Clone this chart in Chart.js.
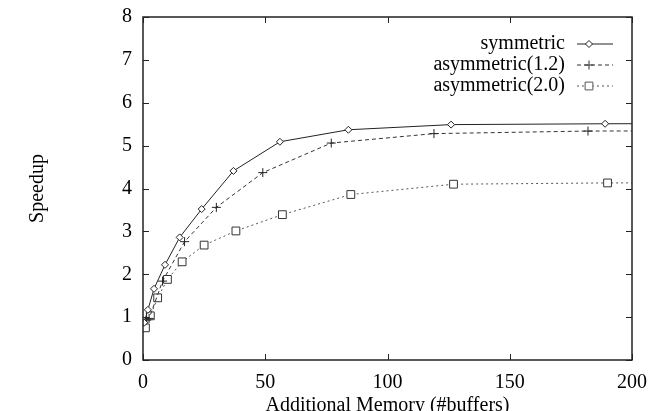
<!DOCTYPE html>
<html>
<head>
<meta charset="utf-8">
<script src="https://cdn.jsdelivr.net/npm/chart.js@4/dist/chart.umd.min.js"></script>
<style>
  html, body { margin: 0; padding: 0; background: #fff; }
  #wrap { width: 652px; height: 411px; }
</style>
</head>
<body>
<div id="wrap"><canvas id="myChart"></canvas></div>
<script>
// Data
const seriesNames = ['symmetric', 'asymmetric(1.2)', 'asymmetric(2.0)'];
const symX = [0.5, 2, 4.5, 9, 15, 24, 37, 56, 84, 126, 189, 284];
const symY = [0.87, 1.17, 1.66, 2.22, 2.86, 3.52, 4.41, 5.09, 5.37, 5.49, 5.51, 5.52];
const asym12X = [1.5, 2.5, 8, 17, 30, 49, 77, 119, 182, 273];
const asym12Y = [0.93, 0.97, 1.84, 2.76, 3.56, 4.37, 5.06, 5.28, 5.34, 5.35];
const asym20X = [1, 3, 6, 10, 16, 25, 38, 57, 85, 127, 190, 285];
const asym20Y = [0.75, 1.03, 1.45, 1.88, 2.29, 2.68, 3.01, 3.39, 3.86, 4.10, 4.13, 4.14];
const xTicks = [0, 50, 100, 150, 200];
const yTicks = [0, 1, 2, 3, 4, 5, 6, 7, 8];

const serif = "'Liberation Serif', 'DejaVu Serif', serif";

function toPoints(xs, ys) {
    return xs.map((x, i) => ({ x: x, y: ys[i] }));
}

// Box around the plot with inward ticks (gnuplot style) and the legend
const framePlugin = {
    id: 'frame',
    afterDatasetsDraw(chart) {
        const ctx = chart.ctx;
        const a = chart.chartArea;
        const xs = chart.scales.x;
        const ys = chart.scales.y;
        const tl = 6;
        ctx.save();
        ctx.strokeStyle = '#222';
        ctx.lineWidth = 1.5;
        ctx.setLineDash([]);
        ctx.strokeRect(a.left, a.top, a.right - a.left, a.bottom - a.top);
        ctx.lineWidth = 1;
        ctx.beginPath();
        xTicks.forEach(v => {
            const px = Math.round(xs.getPixelForValue(v)) + 0.5;
            ctx.moveTo(px, a.bottom); ctx.lineTo(px, a.bottom - tl);
            ctx.moveTo(px, a.top); ctx.lineTo(px, a.top + tl);
        });
        yTicks.forEach(v => {
            const py = Math.round(ys.getPixelForValue(v)) + 0.5;
            ctx.moveTo(a.left, py); ctx.lineTo(a.left + tl, py);
            ctx.moveTo(a.right, py); ctx.lineTo(a.right - tl, py);
        });
        ctx.stroke();

        // legend: text on the left, sample on the right
        ctx.font = '20px ' + serif;
        ctx.fillStyle = '#000';
        ctx.textAlign = 'right';
        ctx.textBaseline = 'middle';
        chart.data.datasets.forEach((ds, i) => {
            const y = 44 + i * 21;
            ctx.fillText(ds.label, 565, y);
            ctx.strokeStyle = ds.borderColor;
            ctx.lineWidth = ds.borderWidth;
            ctx.setLineDash(ds.borderDash || []);
            ctx.beginPath();
            ctx.moveTo(577, y); ctx.lineTo(613, y);
            ctx.stroke();
            ctx.setLineDash([]);
            ctx.fillStyle = '#fff';
            ctx.strokeStyle = ds.borderColor;
            Chart.helpers.drawPoint(ctx, {
                pointStyle: ds.pointStyle, radius: ds.pointRadius, rotation: 0, borderWidth: 1
            }, 589, y);
            ctx.fillStyle = '#000';
        });
        ctx.restore();
    }
};

const ctx = document.getElementById('myChart').getContext('2d');
const chart = new Chart(ctx, {
    type: 'line',
    data: {
        datasets: [{
            label: seriesNames[0],
            data: toPoints(symX, symY),
            borderColor: '#222',
            borderWidth: 1,
            pointStyle: 'rectRot',
            pointRadius: 3.5,
            pointBackgroundColor: '#fff',
            pointBorderColor: '#222',
            pointBorderWidth: 1
        }, {
            label: seriesNames[1],
            data: toPoints(asym12X, asym12Y),
            borderColor: '#333',
            borderWidth: 1,
            borderDash: [4, 3],
            pointStyle: 'cross',
            pointRadius: 4.5,
            pointBorderColor: '#222',
            pointBorderWidth: 1
        }, {
            label: seriesNames[2],
            data: toPoints(asym20X, asym20Y),
            borderColor: '#555',
            borderWidth: 1,
            borderDash: [2, 3],
            pointStyle: 'rect',
            pointRadius: 5.5,
            pointBackgroundColor: '#fff',
            pointBorderColor: '#333',
            pointBorderWidth: 1
        }]
    },
    options: {
        responsive: true,
        maintainAspectRatio: false,
        animation: false,
        layout: { padding: { top: 17, right: 20, left: 0, bottom: 0 } },
        plugins: {
            legend: { display: false },
            tooltip: { enabled: false }
        },
        scales: {
            x: {
                type: 'linear',
                min: 0,
                max: 200,
                afterBuildTicks(scale) { scale.ticks = xTicks.map(v => ({ value: v })); },
                afterFit(scale) {
                    scale.height = 51;
                    scale.paddingLeft = 0;
                    scale.paddingRight = 0;
                },
                grid: { display: false, drawTicks: false },
                border: { display: false },
                ticks: { padding: 11, color: '#000', font: { family: serif, size: 20 } },
                title: {
                    display: true,
                    text: 'Additional Memory (#buffers)',
                    color: '#000',
                    font: { family: serif, size: 20, lineHeight: 1 },
                    padding: { top: 0, bottom: -5 }
                }
            },
            y: {
                min: 0,
                max: 8,
                afterBuildTicks(scale) { scale.ticks = yTicks.map(v => ({ value: v })); },
                afterFit(scale) {
                    scale.width = 143;
                    scale.paddingTop = 0;
                    scale.paddingBottom = 0;
                },
                grid: { display: false, drawTicks: false },
                border: { display: false },
                ticks: { padding: 11, color: '#000', font: { family: serif, size: 20 } },
                title: {
                    display: true,
                    text: 'Speedup',
                    color: '#000',
                    font: { family: serif, size: 20, lineHeight: 1 },
                    padding: { top: 28, bottom: 0 }
                }
            }
        }
    },
    plugins: [framePlugin]
});
</script>
</body>
</html>
